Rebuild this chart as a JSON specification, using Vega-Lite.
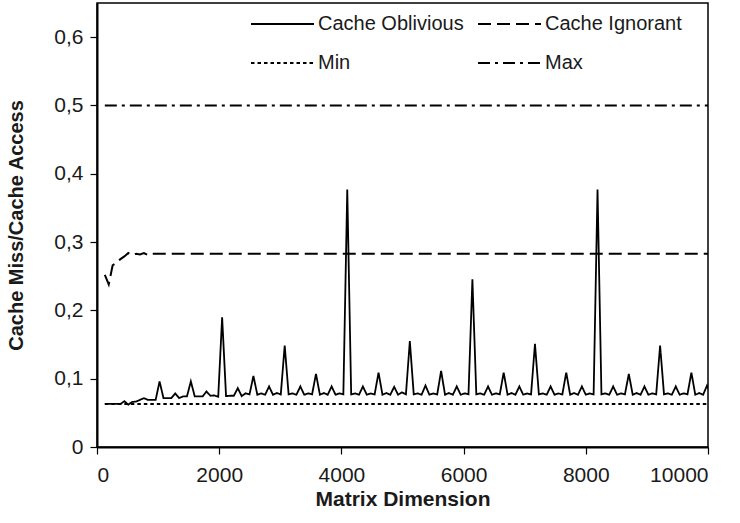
{
  "$schema": "https://vega.github.io/schema/vega-lite/v6.json",
  "width": 611,
  "height": 444,
  "autosize": "none",
  "padding": {"left": 97, "top": 3, "right": 32, "bottom": 76},
  "background": "white",
  "config": {
    "font": "Liberation Sans",
    "view": {"stroke": "black", "strokeWidth": 1.5},
    "axis": {
      "domainColor": "black", "domainWidth": 2, "tickColor": "black", "tickWidth": 1.2, "tickSize": 7,
      "labelFont": "Liberation Sans", "labelFontSize": 21, "labelColor": "#1a1a1a", "labelPadding": 7,
      "titleFont": "Liberation Sans", "titleFontSize": 20, "titleFontWeight": "bold", "titleColor": "#1a1a1a",
      "grid": false
    },
    "legend": {
      "orient": "none", "legendX": 153, "legendY": 9, "columns": 2, "direction": "horizontal", "padding": 0,
      "symbolType": "stroke", "symbolSize": 3969, "symbolStrokeWidth": 1.8, "symbolStrokeColor": "black",
      "labelFont": "Liberation Sans", "labelFontSize": 20, "labelColor": "#1a1a1a", "labelOffset": 3,
      "columnPadding": 13, "rowPadding": 15, "clipHeight": 24, "title": null
    }
  },
  "encoding": {
    "x": {"field": "n", "type": "quantitative", "scale": {"domain": [0, 10000], "nice": false},
      "axis": {"title": "Matrix Dimension", "values": [0, 2000, 4000, 6000, 8000, 10000], "format": "d", "labelPadding": 10, "titlePadding": 3, "titleFontSize": 21}},
    "y": {"field": "v", "type": "quantitative", "scale": {"domain": [0, 0.65], "nice": false},
      "axis": {"title": "Cache Miss/Cache Access", "values": [0, 0.1, 0.2, 0.3, 0.4, 0.5, 0.6],
        "labelExpr": "replace(format(datum.value, '.1~f'), '.', ',')", "titlePadding": 27}}
  },
  "layer": [
    {
      "data": {"values": [{"n": 128, "v": 0.5}, {"n": 10000, "v": 0.5}]},
      "mark": {"type": "line", "color": "black", "strokeWidth": 2, "clip": true},
      "encoding": {"strokeDash": {"datum": "Max", "type": "nominal",
        "scale": {"domain": ["Cache Oblivious", "Cache Ignorant", "Min", "Max"], "range": [[1, 0], [13, 6], [3.5, 3], [12, 5, 3, 5]]}}}
    },
    {
      "data": {"values": [{"n": 128, "v": 0.063}, {"n": 10000, "v": 0.063}]},
      "mark": {"type": "line", "color": "black", "strokeWidth": 2, "clip": true},
      "encoding": {"strokeDash": {"datum": "Min", "type": "nominal"}}
    },
    {
      "data": {"values": [
        {"n": 128, "v": 0.252}, {"n": 192, "v": 0.238}, {"n": 256, "v": 0.266}, {"n": 320, "v": 0.27},
        {"n": 384, "v": 0.275}, {"n": 448, "v": 0.279}, {"n": 512, "v": 0.284}, {"n": 576, "v": 0.281},
        {"n": 640, "v": 0.283}, {"n": 704, "v": 0.282}, {"n": 768, "v": 0.284}, {"n": 832, "v": 0.281},
        {"n": 896, "v": 0.283}, {"n": 960, "v": 0.283}, {"n": 1024, "v": 0.283}, {"n": 10000, "v": 0.283}
      ]},
      "mark": {"type": "line", "color": "black", "strokeWidth": 2, "clip": true},
      "encoding": {"strokeDash": {"datum": "Cache Ignorant", "type": "nominal"}}
    },
    {
      "data": {"values": [
        {"n": 128, "v": 0.063}, {"n": 192, "v": 0.063}, {"n": 256, "v": 0.063}, {"n": 320, "v": 0.063},
        {"n": 384, "v": 0.063}, {"n": 448, "v": 0.067}, {"n": 512, "v": 0.062}, {"n": 576, "v": 0.066},
        {"n": 640, "v": 0.0665}, {"n": 704, "v": 0.069}, {"n": 768, "v": 0.0715}, {"n": 832, "v": 0.069},
        {"n": 896, "v": 0.069}, {"n": 960, "v": 0.069}, {"n": 1024, "v": 0.096}, {"n": 1088, "v": 0.0716},
        {"n": 1152, "v": 0.0716}, {"n": 1216, "v": 0.0716}, {"n": 1280, "v": 0.0784}, {"n": 1344, "v": 0.0716},
        {"n": 1408, "v": 0.074}, {"n": 1472, "v": 0.074}, {"n": 1536, "v": 0.096}, {"n": 1600, "v": 0.074},
        {"n": 1664, "v": 0.074}, {"n": 1728, "v": 0.074}, {"n": 1792, "v": 0.0813}, {"n": 1856, "v": 0.075},
        {"n": 1920, "v": 0.0755}, {"n": 1984, "v": 0.0735}, {"n": 2048, "v": 0.19}, {"n": 2112, "v": 0.0745},
        {"n": 2176, "v": 0.075}, {"n": 2240, "v": 0.075}, {"n": 2304, "v": 0.0862}, {"n": 2368, "v": 0.0745},
        {"n": 2432, "v": 0.0786}, {"n": 2496, "v": 0.077}, {"n": 2560, "v": 0.104},
        {"n": 2624, "v": 0.0765}, {"n": 2688, "v": 0.0785}, {"n": 2752, "v": 0.0765}, {"n": 2816, "v": 0.0886},
        {"n": 2880, "v": 0.0765}, {"n": 2944, "v": 0.079}, {"n": 3008, "v": 0.077}, {"n": 3072, "v": 0.1486},
        {"n": 3136, "v": 0.077}, {"n": 3200, "v": 0.0785}, {"n": 3264, "v": 0.0765}, {"n": 3328, "v": 0.0886},
        {"n": 3392, "v": 0.0765}, {"n": 3456, "v": 0.0785}, {"n": 3520, "v": 0.077}, {"n": 3584, "v": 0.107},
        {"n": 3648, "v": 0.0765}, {"n": 3712, "v": 0.079}, {"n": 3776, "v": 0.0765}, {"n": 3840, "v": 0.0886},
        {"n": 3904, "v": 0.0765}, {"n": 3968, "v": 0.0785}, {"n": 4032, "v": 0.077}, {"n": 4096, "v": 0.377},
        {"n": 4160, "v": 0.077}, {"n": 4224, "v": 0.0785}, {"n": 4288, "v": 0.0765}, {"n": 4352, "v": 0.0886},
        {"n": 4416, "v": 0.0765}, {"n": 4480, "v": 0.0785}, {"n": 4544, "v": 0.077}, {"n": 4608, "v": 0.109},
        {"n": 4672, "v": 0.0765}, {"n": 4736, "v": 0.079}, {"n": 4800, "v": 0.0765}, {"n": 4864, "v": 0.088},
        {"n": 4928, "v": 0.0765}, {"n": 4992, "v": 0.08}, {"n": 5056, "v": 0.077}, {"n": 5120, "v": 0.155},
        {"n": 5184, "v": 0.077}, {"n": 5248, "v": 0.0785}, {"n": 5312, "v": 0.0765}, {"n": 5376, "v": 0.09},
        {"n": 5440, "v": 0.0765}, {"n": 5504, "v": 0.0785}, {"n": 5568, "v": 0.077}, {"n": 5632, "v": 0.1115},
        {"n": 5696, "v": 0.0765}, {"n": 5760, "v": 0.079}, {"n": 5824, "v": 0.0765}, {"n": 5888, "v": 0.0886},
        {"n": 5952, "v": 0.0765}, {"n": 6016, "v": 0.0785}, {"n": 6080, "v": 0.077}, {"n": 6144, "v": 0.2456},
        {"n": 6208, "v": 0.077}, {"n": 6272, "v": 0.0785}, {"n": 6336, "v": 0.0765}, {"n": 6400, "v": 0.0886},
        {"n": 6464, "v": 0.0765}, {"n": 6528, "v": 0.0785}, {"n": 6592, "v": 0.077}, {"n": 6656, "v": 0.109},
        {"n": 6720, "v": 0.0765}, {"n": 6784, "v": 0.079}, {"n": 6848, "v": 0.0765}, {"n": 6912, "v": 0.0886},
        {"n": 6976, "v": 0.0765}, {"n": 7040, "v": 0.0785}, {"n": 7104, "v": 0.077}, {"n": 7168, "v": 0.151},
        {"n": 7232, "v": 0.077}, {"n": 7296, "v": 0.0785}, {"n": 7360, "v": 0.0765}, {"n": 7424, "v": 0.0886},
        {"n": 7488, "v": 0.0765}, {"n": 7552, "v": 0.0785}, {"n": 7616, "v": 0.077}, {"n": 7680, "v": 0.109},
        {"n": 7744, "v": 0.0765}, {"n": 7808, "v": 0.079}, {"n": 7872, "v": 0.0765}, {"n": 7936, "v": 0.0886},
        {"n": 8000, "v": 0.0765}, {"n": 8064, "v": 0.0785}, {"n": 8128, "v": 0.077}, {"n": 8192, "v": 0.377},
        {"n": 8256, "v": 0.077}, {"n": 8320, "v": 0.0785}, {"n": 8384, "v": 0.0765}, {"n": 8448, "v": 0.0886},
        {"n": 8512, "v": 0.0765}, {"n": 8576, "v": 0.0785}, {"n": 8640, "v": 0.077}, {"n": 8704, "v": 0.107},
        {"n": 8768, "v": 0.0765}, {"n": 8832, "v": 0.079}, {"n": 8896, "v": 0.0765}, {"n": 8960, "v": 0.0886},
        {"n": 9024, "v": 0.0765}, {"n": 9088, "v": 0.0785}, {"n": 9152, "v": 0.077}, {"n": 9216, "v": 0.1486},
        {"n": 9280, "v": 0.077}, {"n": 9344, "v": 0.0785}, {"n": 9408, "v": 0.0765}, {"n": 9472, "v": 0.0886},
        {"n": 9536, "v": 0.0765}, {"n": 9600, "v": 0.0785}, {"n": 9664, "v": 0.077}, {"n": 9728, "v": 0.109},
        {"n": 9792, "v": 0.0765}, {"n": 9856, "v": 0.079}, {"n": 9920, "v": 0.0765}, {"n": 9984, "v": 0.09},
        {"n": 10048, "v": 0.077}
      ]},
      "mark": {"type": "line", "color": "black", "strokeWidth": 1.8, "clip": true},
      "encoding": {"strokeDash": {"datum": "Cache Oblivious", "type": "nominal"}}
    }
  ]
}
